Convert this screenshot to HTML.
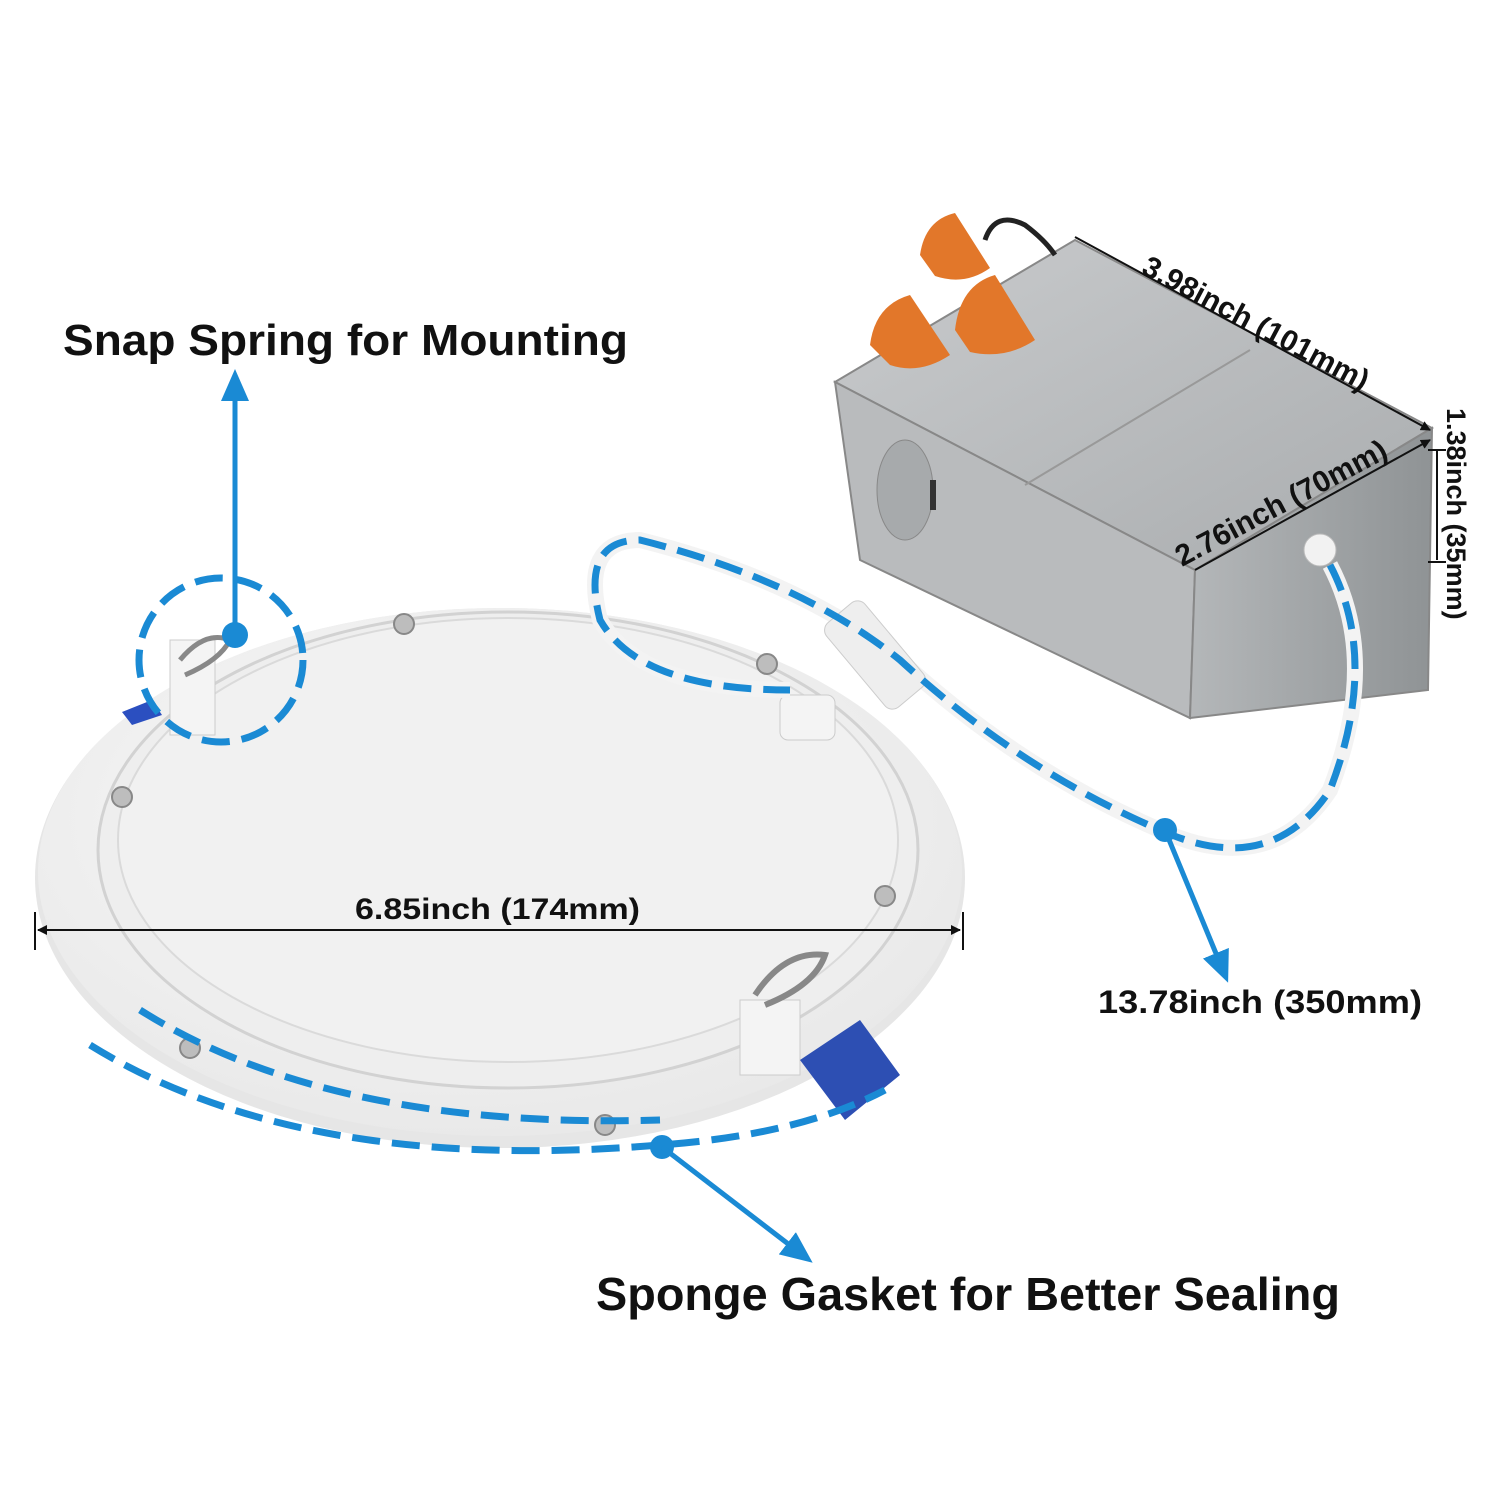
<!DOCTYPE html>
<html><head><meta charset="utf-8"><style>
html,body{margin:0;padding:0;background:#fff;}
svg{display:block;}
text{font-family:"Liberation Sans",sans-serif;font-weight:bold;fill:#111;}
</style></head><body>
<svg width="1500" height="1500" viewBox="0 0 1500 1500" xmlns="http://www.w3.org/2000/svg">
<defs>
<radialGradient id="disc" cx="0.45" cy="0.4" r="0.7">
<stop offset="0" stop-color="#fbfbfb"/><stop offset="1" stop-color="#e6e6e6"/></radialGradient>
<linearGradient id="boxTop" x1="0" y1="0" x2="1" y2="1">
<stop offset="0" stop-color="#c9cbcd"/><stop offset="1" stop-color="#a9acae"/></linearGradient>
<linearGradient id="boxSide" x1="0" y1="0" x2="1" y2="0">
<stop offset="0" stop-color="#b4b7b9"/><stop offset="1" stop-color="#8f9395"/></linearGradient>
<marker id="ah" markerWidth="32" markerHeight="32" refX="16" refY="16" orient="auto" markerUnits="userSpaceOnUse" viewBox="0 0 32 32">
<path d="M0,2 L32,16 L0,30 z" fill="#1a8ad4"/></marker>
<marker id="bk" markerWidth="10" markerHeight="10" refX="9" refY="5" orient="auto-start-reverse" markerUnits="userSpaceOnUse">
<path d="M0,0 L10,5 L0,10 z" fill="#111"/></marker>
</defs>

<ellipse cx="500" cy="878" rx="465" ry="270" fill="#e6e6e6"/>
<ellipse cx="500" cy="872" rx="462" ry="264" fill="url(#disc)"/>
<ellipse cx="508" cy="850" rx="410" ry="238" fill="#eeeeee" stroke="#d2d2d2" stroke-width="3"/>
<ellipse cx="508" cy="840" rx="390" ry="222" fill="#f1f1f1" stroke="#dadada" stroke-width="2"/>
<g fill="#bdbdbd" stroke="#888" stroke-width="2">
<circle cx="404" cy="624" r="10"/><circle cx="767" cy="664" r="10"/><circle cx="122" cy="797" r="10"/>
<circle cx="885" cy="896" r="10"/><circle cx="190" cy="1048" r="10"/><circle cx="605" cy="1125" r="10"/>
</g>
<rect x="170" y="640" width="45" height="95" fill="#f4f4f4" stroke="#ccc"/>
<path d="M180,660 q25,-30 50,-20 q-10,20 -45,35" fill="none" stroke="#888" stroke-width="5"/>
<path d="M122,712 l30,-12 l10,15 l-30,10z" fill="#2b4fc0"/>
<rect x="740" y="1000" width="60" height="75" fill="#f4f4f4" stroke="#ccc"/>
<path d="M755,995 q30,-45 70,-40 q-10,30 -60,50" fill="none" stroke="#888" stroke-width="6"/>
<path d="M800,1060 l60,-40 l40,55 l-55,45z" fill="#2d4fb3"/>
<rect x="780" y="695" width="55" height="45" rx="8" fill="#f4f4f4" stroke="#ccc"/>

<polygon points="835,382 1075,240 1432,428 1195,570" fill="url(#boxTop)" stroke="#888" stroke-width="2"/>
<polygon points="835,382 1195,570 1190,718 860,560" fill="#b9bbbd" stroke="#888" stroke-width="2"/>
<polygon points="1195,570 1432,428 1428,690 1190,718" fill="url(#boxSide)" stroke="#888" stroke-width="2"/>
<line x1="1025" y1="485" x2="1250" y2="350" stroke="#999" stroke-width="2"/>
<ellipse cx="905" cy="490" rx="28" ry="50" fill="#a7aaac" stroke="#888"/>
<rect x="930" y="480" width="6" height="30" fill="#333"/>
<circle cx="1320" cy="550" r="16" fill="#f2f2f2" stroke="#bbb"/>
<path d="M870,345 q5,-40 40,-50 l40,60 q-30,20 -60,10z" fill="#e2772a"/>
<path d="M955,330 q5,-45 40,-55 l40,65 q-30,20 -65,12z" fill="#e2772a"/>
<path d="M920,255 q5,-35 35,-42 l35,55 q-25,18 -55,8z" fill="#e2772a"/>
<path d="M985,240 q10,-30 40,-15 q20,15 30,30" fill="none" stroke="#222" stroke-width="5"/>

<path d="M1330,565 Q1380,660 1330,790 Q1270,880 1160,830 Q1020,770 900,660 Q800,580 640,540 Q580,540 600,620 Q640,690 790,690" fill="none" stroke="#f3f3f3" stroke-width="16"/>
<rect x="850" y="600" width="50" height="110" rx="10" fill="#eee" stroke="#ccc" transform="rotate(-40 875 655)"/>

<g fill="none" stroke="#1a8ad4" stroke-width="7" stroke-dasharray="28,12">
<path d="M1330,565 Q1380,660 1330,790 Q1270,880 1160,830 Q1020,770 900,660 Q800,580 640,540 Q580,540 600,620 Q640,690 790,690"/>
<path d="M90,1045 Q300,1175 660,1145 Q800,1135 885,1090"/>
<path d="M140,1010 Q330,1130 660,1120"/>
<circle cx="221" cy="660" r="82"/>
</g>
<circle cx="235" cy="635" r="13" fill="#1a8ad4"/>
<circle cx="662" cy="1147" r="12" fill="#1a8ad4"/>
<circle cx="1165" cy="830" r="12" fill="#1a8ad4"/>
<g stroke="#1a8ad4" stroke-width="5" fill="none">
<line x1="235" y1="635" x2="235" y2="385" marker-end="url(#ah)"/>
<line x1="662" y1="1147" x2="800" y2="1253" marker-end="url(#ah)"/>
<line x1="1165" y1="830" x2="1222" y2="968" marker-end="url(#ah)"/>
</g>

<g stroke="#111" stroke-width="2">
<line x1="35" y1="912" x2="35" y2="950"/><line x1="963" y1="912" x2="963" y2="950"/>
<line x1="38" y1="930" x2="960" y2="930" marker-end="url(#bk)" marker-start="url(#bk)"/>
<line x1="1075" y1="237" x2="1430" y2="430" marker-end="url(#bk)"/>
<line x1="1195" y1="570" x2="1430" y2="440" marker-end="url(#bk)"/>
<line x1="1437" y1="450" x2="1437" y2="560"/>
<line x1="1428" y1="450" x2="1446" y2="450"/><line x1="1428" y1="562" x2="1446" y2="562"/>
</g>

<text x="63" y="355" font-size="44" textLength="565" lengthAdjust="spacingAndGlyphs">Snap Spring for Mounting</text>
<text x="355" y="919" font-size="30" textLength="285" lengthAdjust="spacingAndGlyphs">6.85inch (174mm)</text>
<text x="1098" y="1013" font-size="32" textLength="324" lengthAdjust="spacingAndGlyphs">13.78inch (350mm)</text>
<text x="596" y="1310" font-size="46" textLength="744" lengthAdjust="spacingAndGlyphs">Sponge Gasket for Better Sealing</text>
<text x="1140" y="273" font-size="30" transform="rotate(28 1140 273)">3.98inch (101mm)</text>
<text x="1182" y="567" font-size="30" transform="rotate(-28 1182 567)">2.76inch (70mm)</text>
<text x="1447" y="408" font-size="27" transform="rotate(90 1447 408)">1.38inch (35mm)</text>
</svg>
</body></html>
